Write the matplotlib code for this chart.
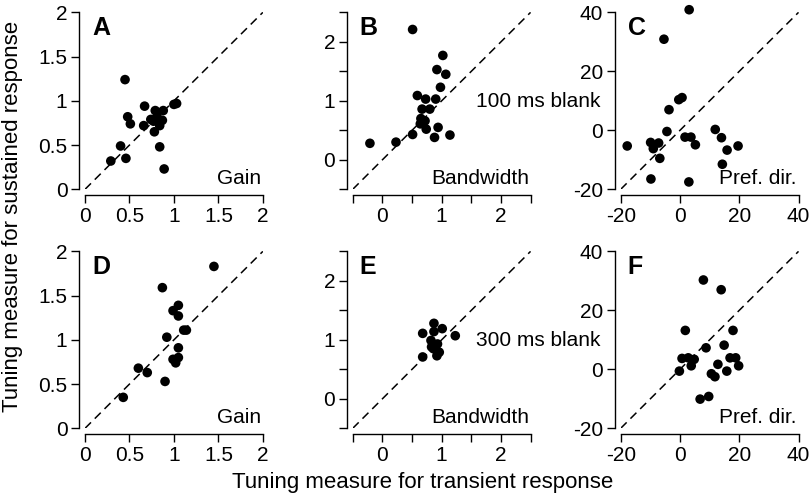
import matplotlib
matplotlib.use("Agg")
import matplotlib.pyplot as plt

plt.rcParams['font.family'] = ['Liberation Sans', 'DejaVu Sans']
plt.rcParams['font.size'] = 15

# Panel A / D: gain, B / E: bandwidth, C / F: preferred direction
gain_100_x = [0.45, 0.67, 0.79, 0.88, 1.00, 1.03, 0.48, 0.51, 0.66, 0.74,
              0.81, 0.87, 0.84, 0.78, 0.77, 0.40, 0.84, 0.46, 0.29, 0.89]
gain_100_y = [1.24, 0.94, 0.89, 0.89, 0.96, 0.97, 0.82, 0.74, 0.72, 0.79,
              0.82, 0.78, 0.72, 0.65, 0.77, 0.49, 0.48, 0.35, 0.32, 0.23]

bw_100_x = [0.51, 1.02, 0.92, 1.07, 0.98, 0.59, 0.73, 0.90, 0.67, 0.80,
            0.65, 0.72, 0.64, 0.74, 0.94, 0.51, 0.88, 1.14, 0.23, -0.21]
bw_100_y = [2.21, 1.77, 1.53, 1.45, 1.23, 1.09, 1.03, 1.03, 0.86, 0.86,
            0.70, 0.66, 0.61, 0.52, 0.55, 0.43, 0.38, 0.42, 0.30, 0.28]

dir_100_x = [3.1, -5.4, 0.7, -0.4, -3.7, -4.4, -17.8, -9.9, -7.2, -9.0, -6.8,
             -9.8, 1.7, 3.7, 5.2, 3.0, 11.9, 14.0, 15.9, 19.6, 14.3]
dir_100_y = [40.9, 30.9, 11.1, 10.4, 7.0, -0.4, -5.3, -4.1, -4.3, -6.2, -9.5,
             -16.5, -2.3, -2.3, -4.9, -17.5, 0.3, -2.5, -6.7, -5.3, -11.5]

gain_300_x = [1.45, 0.87, 1.05, 0.99, 1.05, 1.11, 1.14, 0.92, 1.05, 0.99,
              1.05, 1.02, 0.60, 0.70, 0.90, 0.43]
gain_300_y = [1.83, 1.59, 1.39, 1.33, 1.27, 1.11, 1.11, 1.03, 0.91, 0.78,
              0.80, 0.74, 0.68, 0.63, 0.53, 0.35]

bw_300_x = [0.87, 0.68, 0.87, 1.01, 1.23, 0.82, 0.93, 0.83, 0.96, 0.92, 0.68, 0.86]
bw_300_y = [1.28, 1.11, 1.14, 1.19, 1.07, 0.99, 0.93, 0.88, 0.79, 0.73, 0.71, 0.85]

dir_300_x = [7.9, 13.9, 1.8, 17.9, 8.8, 14.9, 0.7, 2.8, 4.8, 3.8, -0.2, 12.8,
             15.8, 16.9, 18.8, 19.8, 10.6, 11.8, 6.8, 9.7]
dir_300_y = [30.3, 27.0, 13.2, 13.2, 7.3, 8.2, 3.7, 3.9, 3.4, 1.2, -0.6, 1.7,
             -0.6, 3.9, 3.9, 1.2, -1.5, -2.5, -10.1, -9.2]

panel_letters = ['A', 'B', 'C', 'D', 'E', 'F']
measure_names = ['Gain', 'Bandwidth', 'Pref. dir.']
blank_labels = ['100 ms blank', '300 ms blank']

limits = [(0, 2), (-0.5, 2.5), (-20, 40)]
ticks = [[0, 0.5, 1, 1.5, 2], [-0.5, 0, 0.5, 1, 1.5, 2, 2.5], [-20, 0, 20, 40]]
tick_labels = [['0', '0.5', '1', '1.5', '2'],
               ['', '0', '', '1', '', '2', ''],
               ['-20', '0', '20', '40']]

data = [[(gain_100_x, gain_100_y), (bw_100_x, bw_100_y), (dir_100_x, dir_100_y)],
        [(gain_300_x, gain_300_y), (bw_300_x, bw_300_y), (dir_300_x, dir_300_y)]]

fig = plt.figure(figsize=(8.12, 4.97), dpi=100)

lefts = [0.1047, 0.4344, 0.7644]
bottoms = [0.6191, 0.1382]
w, h = 0.2190, 0.3560

for r in range(2):
    for c in range(3):
        ax = fig.add_axes([lefts[c], bottoms[r], w, h])
        x, y = data[r][c]
        lo, hi = limits[c]
        ax.plot([lo, hi], [lo, hi], color='black', linestyle=(0, (5.5, 3.5)),
                linewidth=1.1, zorder=1)
        ax.scatter(x, y, s=48, color='black', edgecolors='none', zorder=2,
                   clip_on=False)
        ax.set_xlim(lo, hi)
        ax.set_ylim(lo, hi)
        ax.set_xticks(ticks[c])
        ax.set_xticklabels(tick_labels[c])
        ax.set_yticks(ticks[c])
        ax.set_yticklabels(tick_labels[c])
        for side in ['top', 'right']:
            ax.spines[side].set_visible(False)
        for side in ['left', 'bottom']:
            ax.spines[side].set_position(('outward', 4.2))
            ax.spines[side].set_linewidth(1.0)
        ax.tick_params(direction='out', length=6, width=1.0, labelsize=15,
                       pad=2.5)
        ax.text(0.04, 0.98, panel_letters[r * 3 + c], transform=ax.transAxes,
                fontsize=18, fontweight='bold', va='top', ha='left')
        ax.text(0.99, 0.01, measure_names[c], transform=ax.transAxes,
                fontsize=15, va='bottom', ha='right')

fig.text(0.663, 0.795, blank_labels[0], fontsize=15, ha='center', va='center')
fig.text(0.663, 0.314, blank_labels[1], fontsize=15, ha='center', va='center')

fig.text(0.52, 0.03, 'Tuning measure for transient response', fontsize=16,
         ha='center', va='center')
fig.text(0.016, 0.565, 'Tuning measure for sustained response', fontsize=16,
         ha='center', va='center', rotation=90)

fig.savefig('out.png', dpi=100)
